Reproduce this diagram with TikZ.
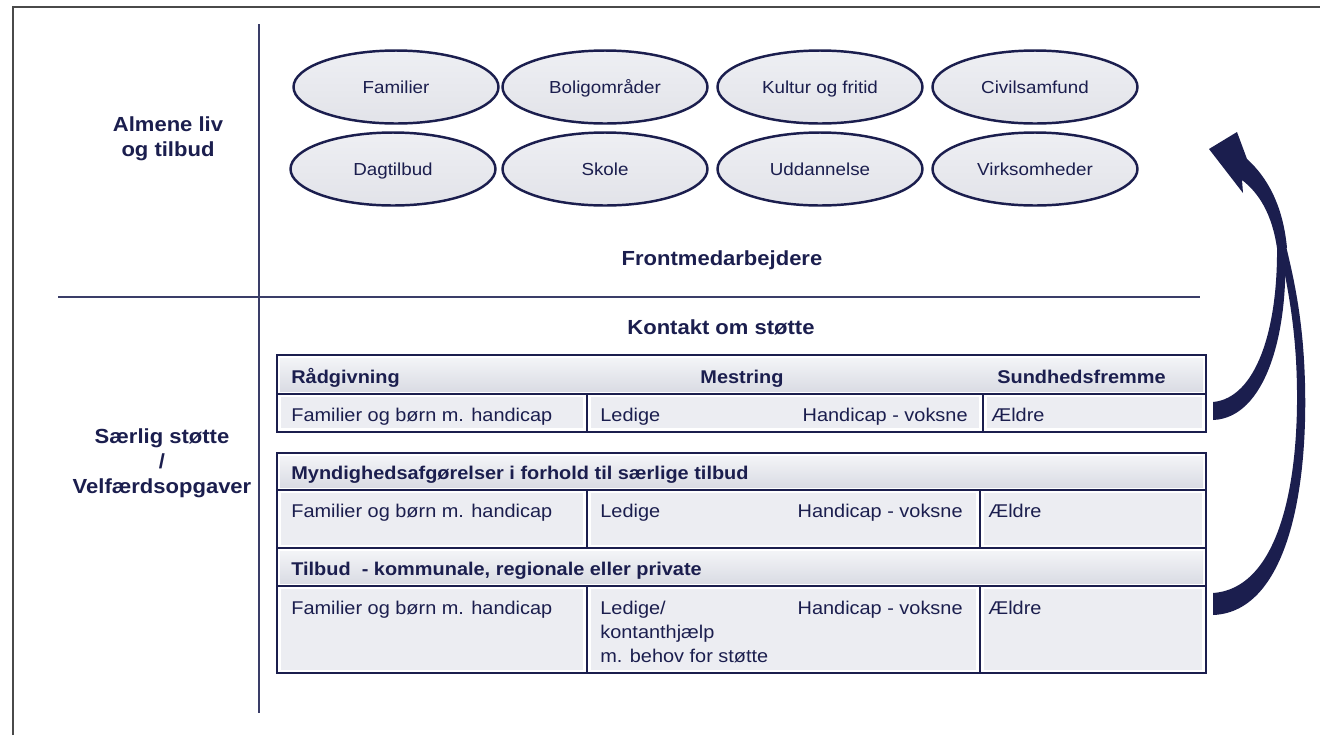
\documentclass[tikz,border=0pt]{standalone}
\usepackage{fontspec}
\setmainfont{Liberation Sans}[FakeStretch=1.08]
\usetikzlibrary{shapes.geometric}
\definecolor{navy}{HTML}{1B1E4E}
\definecolor{frameg}{HTML}{4A4A4A}
\definecolor{divl}{HTML}{3A3D68}
\definecolor{ellTop}{HTML}{EEEFF3}
\definecolor{ellBot}{HTML}{E2E3E9}
\definecolor{cellF}{HTML}{ECEDF2}
\definecolor{hdTop}{HTML}{F3F4F7}
\definecolor{hdBot}{HTML}{DADCE4}
\begin{document}
\begin{tikzpicture}[x=0.02cm,y=-0.02cm,
  ell/.style={ellipse, draw=navy, line width=1.4pt, top color=ellTop, bottom color=ellBot,
    minimum width=4.1cm, minimum height=1.46cm, inner sep=0pt,
    text height=7.3pt, text depth=0pt,
    font=\fontsize{9.9}{12}\selectfont, text=navy},
  head/.style={font=\fontsize{11.6}{14.3}\selectfont\bfseries, text=navy, align=center},
  tx/.style={font=\fontsize{10.5}{13}\selectfont, text=navy, inner sep=0pt},
  txb/.style={font=\fontsize{10.5}{13}\selectfont\bfseries, text=navy, inner sep=0pt},
  boxline/.style={draw=navy, line width=1.1pt},
  cell/.style={fill=cellF},
  hcell/.style={top color=hdTop, bottom color=hdBot, draw=none}
]
\useasboundingbox (0,0) rectangle (1320,735);
\fill[white] (0,0) rectangle (1320,735);

% frame
\draw[frameg, line width=0.9pt] (13,735) -- (13,7) -- (1320,7);
% dividers
\coordinate (vt) at (259,24);
\coordinate (vb) at (259,713);
\coordinate (hl) at (58,297);
\coordinate (hr) at (1200,297);
\draw[divl, line width=0.8pt] (vt) -- (vb);
\draw[divl, line width=0.8pt] (hl) -- (hr);

% side headings
\node[head] (almene) at (168,139) {Almene liv\\og tilbud};
\node[head] (saerlig) at (162,463) {Særlig støtte\\/\\Velfærdsopgaver};

% ellipses
\node[ell] (e1) at (396,87) {Familier};
\node[ell] (e2) at (605,87) {Boligområder};
\node[ell] (e3) at (820,87) {Kultur og fritid};
\node[ell] (e4) at (1035,87) {Civilsamfund};
\node[ell] (e5) at (393,169) {Dagtilbud};
\node[ell] (e6) at (605,169) {Skole};
\node[ell] (e7) at (820,169) {Uddannelse};
\node[ell] (e8) at (1035,169) {Virksomheder};

\node[head] (front) at (722,260) {Frontmedarbejdere};
\node[head] (kontakt) at (721,327) {Kontakt om støtte};

% ---- table 1 fills
\shade[hcell] (280,358) rectangle (1203,391);
\fill[cell] (281,397) rectangle (583,428);
\fill[cell] (591,397) rectangle (979,428);
\fill[cell] (987,397) rectangle (1202,428);
% ---- table 2 fills
\shade[hcell] (280,456) rectangle (1203,487);
\fill[cell] (281,493) rectangle (583,545);
\fill[cell] (591,493) rectangle (976,545);
\fill[cell] (984,493) rectangle (1202,545);
\shade[hcell] (280,551) rectangle (1203,583);
\fill[cell] (281,589) rectangle (583,670);
\fill[cell] (591,589) rectangle (976,670);
\fill[cell] (984,589) rectangle (1202,670);

% ---- table lines
\draw[boxline] (277,355) rectangle (1206,432);
\draw[boxline] (277,394) -- (1206,394);
\draw[boxline] (587,394) -- (587,432);
\draw[boxline] (983,394) -- (983,432);

\draw[boxline] (277,453) rectangle (1206,673);
\draw[boxline] (277,490) -- (1206,490);
\draw[boxline] (277,548) -- (1206,548);
\draw[boxline] (277,586) -- (1206,586);
\draw[boxline] (587,490) -- (587,548);
\draw[boxline] (980,490) -- (980,548);
\draw[boxline] (587,586) -- (587,673);
\draw[boxline] (980,586) -- (980,673);

% ---- table 1 text
\node[txb, anchor=base west] (t1h1) at (291,383) {Rådgivning};
\node[txb, anchor=base] (t1h2) at (742,383) {Mestring};
\node[txb, anchor=base west] (t1h3) at (997,383) {Sundhedsfremme};
\node[tx, anchor=base west] (t1c1) at (291,421) {Familier og børn m. handicap};
\node[tx, anchor=base west] (t1c2) at (600,421) {Ledige};
\node[tx, anchor=base east] (t1c3) at (968,421) {Handicap - voksne};
\node[tx, anchor=base west] (t1c4) at (991,421) {Ældre};

% ---- table 2 text
\node[txb, anchor=base west] (t2h) at (291,479) {Myndighedsafgørelser i forhold til særlige tilbud};
\node[tx, anchor=base west] (t2c1) at (291,517) {Familier og børn m. handicap};
\node[tx, anchor=base west] (t2c2) at (600,517) {Ledige};
\node[tx, anchor=base east] (t2c3) at (963,517) {Handicap - voksne};
\node[tx, anchor=base west] (t2c4) at (988,517) {Ældre};

% ---- table 3 text
\node[txb, anchor=base west] (t3h) at (291,575) {Tilbud\ \ - kommunale, regionale eller private};
\node[tx, anchor=base west] (t3c1) at (291,614) {Familier og børn m. handicap};
\node[tx, anchor=base west] (t3c2a) at (600,614) {Ledige/};
\node[tx, anchor=base west] (t3c2b) at (600,638) {kontanthjælp};
\node[tx, anchor=base west] (t3c2c) at (600,662) {m. behov for støtte};
\node[tx, anchor=base east] (t3c3) at (963,614) {Handicap - voksne};
\node[tx, anchor=base west] (t3c4) at (988,614) {Ældre};

% ---- arrows (tapered filled shapes)
\fill[navy] (1213,402) .. controls (1256,398) and (1278,330) .. (1277,246)
  -- (1285,246) .. controls (1289,335) and (1265,418) .. (1213,420) -- cycle;
\fill[navy] (1213,593) .. controls (1283,588) and (1302,470) .. (1296,360)
  .. controls (1293,310) and (1285,275) .. (1279,246)
  -- (1286,246) .. controls (1293,275) and (1301,310) .. (1304,360)
  .. controls (1311,480) and (1290,612) .. (1213,615) -- cycle;
\fill[navy] (1277,248) .. controls (1272,214) and (1259,193) .. (1242,180)
  -- (1243,193) -- (1209,149) -- (1237,132) -- (1247,159)
  .. controls (1267,177) and (1283,205) .. (1287,248) -- cycle;
\end{tikzpicture}
\end{document}
